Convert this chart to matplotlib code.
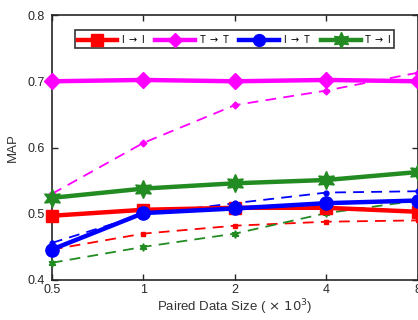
import numpy as np
import matplotlib
matplotlib.use("Agg")
import matplotlib.pyplot as plt
from matplotlib import rc
rc('font', **{'family': 'sans-serif', 'sans-serif': ['Liberation Sans']})
rc('mathtext', fontset='dejavusans')

sizes = ['0.5', '1', '2', '4', '8']

# solid lines (legend entries)
i2i = [0.497, 0.506, 0.509, 0.509, 0.503]
t2t = [0.700, 0.702, 0.700, 0.702, 0.700]
i2t = [0.446, 0.501, 0.508, 0.516, 0.520]
t2i = [0.524, 0.538, 0.546, 0.551, 0.563]

# dashed lines
i2i_d = [0.446, 0.470, 0.482, 0.488, 0.490]
t2t_d = [0.530, 0.607, 0.664, 0.686, 0.713]
i2t_d = [0.456, 0.499, 0.516, 0.532, 0.534]
t2i_d = [0.426, 0.450, 0.470, 0.501, 0.520]

xs = np.arange(len(sizes))

fig = plt.figure(figsize=(4.18, 3.2), dpi=100)
ax = fig.add_axes([0.124, 0.125, 0.876, 0.828])

green = '#228B22'
hexa = (6, 1, 0)
styles = [(i2i, i2i_d, 'red', 's', 9, 3.5, r'I $\rightarrow$ I'),
          (t2t, t2t_d, 'magenta', 'D', 8, 3.5, r'T $\rightarrow$ T'),
          (i2t, i2t_d, 'blue', 'o', 9.5, 3.5, r'I $\rightarrow$ T'),
          (t2i, t2i_d, green, hexa, 13, 5.5, r'T $\rightarrow$ I')]

for sol, dsh, c, m, ms, msd, lab in styles:
    ax.plot(xs, dsh, '--', color=c, lw=1.3, marker=m, ms=msd,
            dashes=(6, 4), clip_on=False, zorder=3)
for sol, dsh, c, m, ms, msd, lab in styles:
    ax.plot(xs, sol, '-', color=c, lw=3.2, marker=m, ms=ms, label=lab,
            clip_on=False, zorder=4)

ax.set_xlim(0, 4)
ax.set_ylim(0.4, 0.8)
ax.set_xticks(xs)
ax.set_xticklabels(sizes)
ax.set_yticks([0.4, 0.5, 0.6, 0.7, 0.8])
ax.tick_params(direction='in', top=True, right=True, labelsize=9,
               length=4, width=1, colors='#262626')
ax.tick_params(axis='y', pad=5)
ax.tick_params(axis='x', pad=3)
for s in ax.spines.values():
    s.set_linewidth(1.2)
    s.set_color('#262626')

ax.set_xlabel(r"Paired Data Size ( $\times\ 10^3$)", fontsize=9.5, color='#333333', labelpad=1)
ax.set_ylabel("MAP", fontsize=9.5, color='#333333', labelpad=6)

leg = ax.legend(loc='upper center', bbox_to_anchor=(0.499, 0.96), ncol=4,
                fontsize=7, frameon=True, fancybox=False, edgecolor='black',
                handlelength=4.1, columnspacing=1.0, handletextpad=0.4,
                borderpad=0.3, markerscale=0.9)
leg.get_frame().set_linewidth(1.2)

fig.savefig("out.png", dpi=100)
